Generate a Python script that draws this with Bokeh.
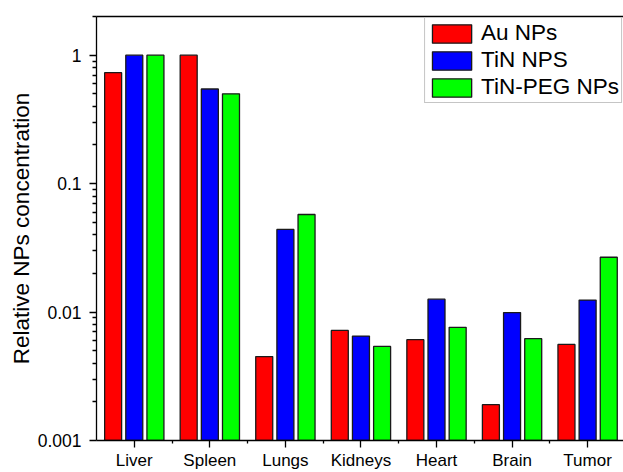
from bokeh.plotting import figure
from bokeh.models import (ColumnDataSource, FixedTicker, Range1d, LinearAxis,
                          Legend, LegendItem, CustomJSTickFormatter)
from bokeh.embed import file_html
from bokeh.resources import INLINE

# ---- data ----
organs = ["Liver", "Spleen", "Lungs", "Kidneys", "Heart", "Brain", "Tumor"]
au_nps = [0.73, 1.0, 0.0045, 0.0072, 0.0061, 0.0019, 0.0056]
tin_nps = [1.0, 0.545, 0.044, 0.0065, 0.0126, 0.0099, 0.0124]
tin_peg_nps = [1.0, 0.50, 0.0575, 0.0054, 0.0076, 0.0062, 0.0267]
series_names = ["Au NPs", "TiN NPS", "TiN-PEG NPs"]
y_ticks = [0.001, 0.01, 0.1, 1]

FONT = "Liberation Sans"
xpos = list(range(1, len(organs) + 1))

p = figure(width=623, height=472, output_backend="svg", toolbar_location=None,
           y_axis_type="log", x_range=Range1d(0.5, 7.475), y_range=Range1d(0.001, 2.0),
           min_border_left=96, min_border_right=0, min_border_top=16, min_border_bottom=0)
p.outline_line_color = None
p.xgrid.visible = False
p.ygrid.visible = False
p.background_fill_color = "white"
p.border_fill_color = "white"

colors = ["#FF0000", "#0000FF", "#00FF00"]
offsets = [-0.28, 0.0, 0.28]
vals = [au_nps, tin_nps, tin_peg_nps]
renderers = []
for name, col, off, v in zip(series_names, colors, offsets, vals):
    src = ColumnDataSource(dict(x=[xx + off for xx in xpos], top=v,
                                bottom=[0.001] * len(v)))
    r = p.vbar(x="x", top="top", bottom="bottom", width=0.225, source=src,
               fill_color=col, line_color="#1a1a1a", line_width=1.3)
    renderers.append(r)

# x axis
xa = p.xaxis[0]
xa.ticker = FixedTicker(ticks=xpos, minor_ticks=[x + 0.5 for x in xpos[:-1]])
xa.major_label_overrides = {i: o for i, o in zip(xpos, organs)}
xa.major_label_text_font = FONT
xa.major_label_text_font_size = "17px"
xa.major_label_text_color = "black"
xa.major_label_standoff = 3
xa.major_tick_out = 7
xa.major_tick_in = 0
xa.minor_tick_out = 3
xa.minor_tick_in = 0
xa.axis_line_width = 1.3
xa.major_tick_line_width = 1.3
xa.minor_tick_line_width = 1.3
xa.axis_line_color = "black"

# y axis
ya = p.yaxis[0]
minor = []
for d in [0.001, 0.01, 0.1, 1]:
    for k in range(2, 10):
        if d * k <= 2.0:
            minor.append(d * k)
ya.ticker = FixedTicker(ticks=y_ticks, minor_ticks=minor)
ya.formatter = CustomJSTickFormatter(code="return String(tick);")
ya.major_label_text_font = FONT
ya.major_label_text_font_size = "17.5px"
ya.major_label_text_color = "black"
ya.major_label_standoff = 8
ya.major_tick_out = 7
ya.major_tick_in = 0
ya.minor_tick_out = 4
ya.minor_tick_in = 0
ya.axis_line_width = 1.3
ya.major_tick_line_width = 1.3
ya.minor_tick_line_width = 1.3
ya.axis_line_color = "black"
ya.axis_label = "Relative NPs concentration"
ya.axis_label_text_font = FONT
ya.axis_label_text_font_size = "22.5px"
ya.axis_label_text_font_style = "normal"
ya.axis_label_text_color = "black"
ya.axis_label_standoff = 1

# top frame line
top_axis = LinearAxis(ticker=FixedTicker(ticks=[]), major_tick_line_color=None,
                      minor_tick_line_color=None, major_label_text_font_size="0px",
                      major_label_standoff=0, axis_line_width=1.3, axis_line_color="black")
p.add_layout(top_axis, "above")

legend = Legend(items=[LegendItem(label=n, renderers=[r]) for n, r in zip(series_names, renderers)],
                location="top_right", margin=1, padding=2, spacing=1,
                glyph_width=49, glyph_height=23, label_height=23, label_standoff=5,
                label_text_font=FONT, label_text_font_size="22.5px", label_text_color="black",
                border_line_color="#8c8c8c", border_line_width=1,
                background_fill_color="white", background_fill_alpha=1.0)
p.add_layout(legend, "center")

open("out.html", "w").write(file_html(p, INLINE))
